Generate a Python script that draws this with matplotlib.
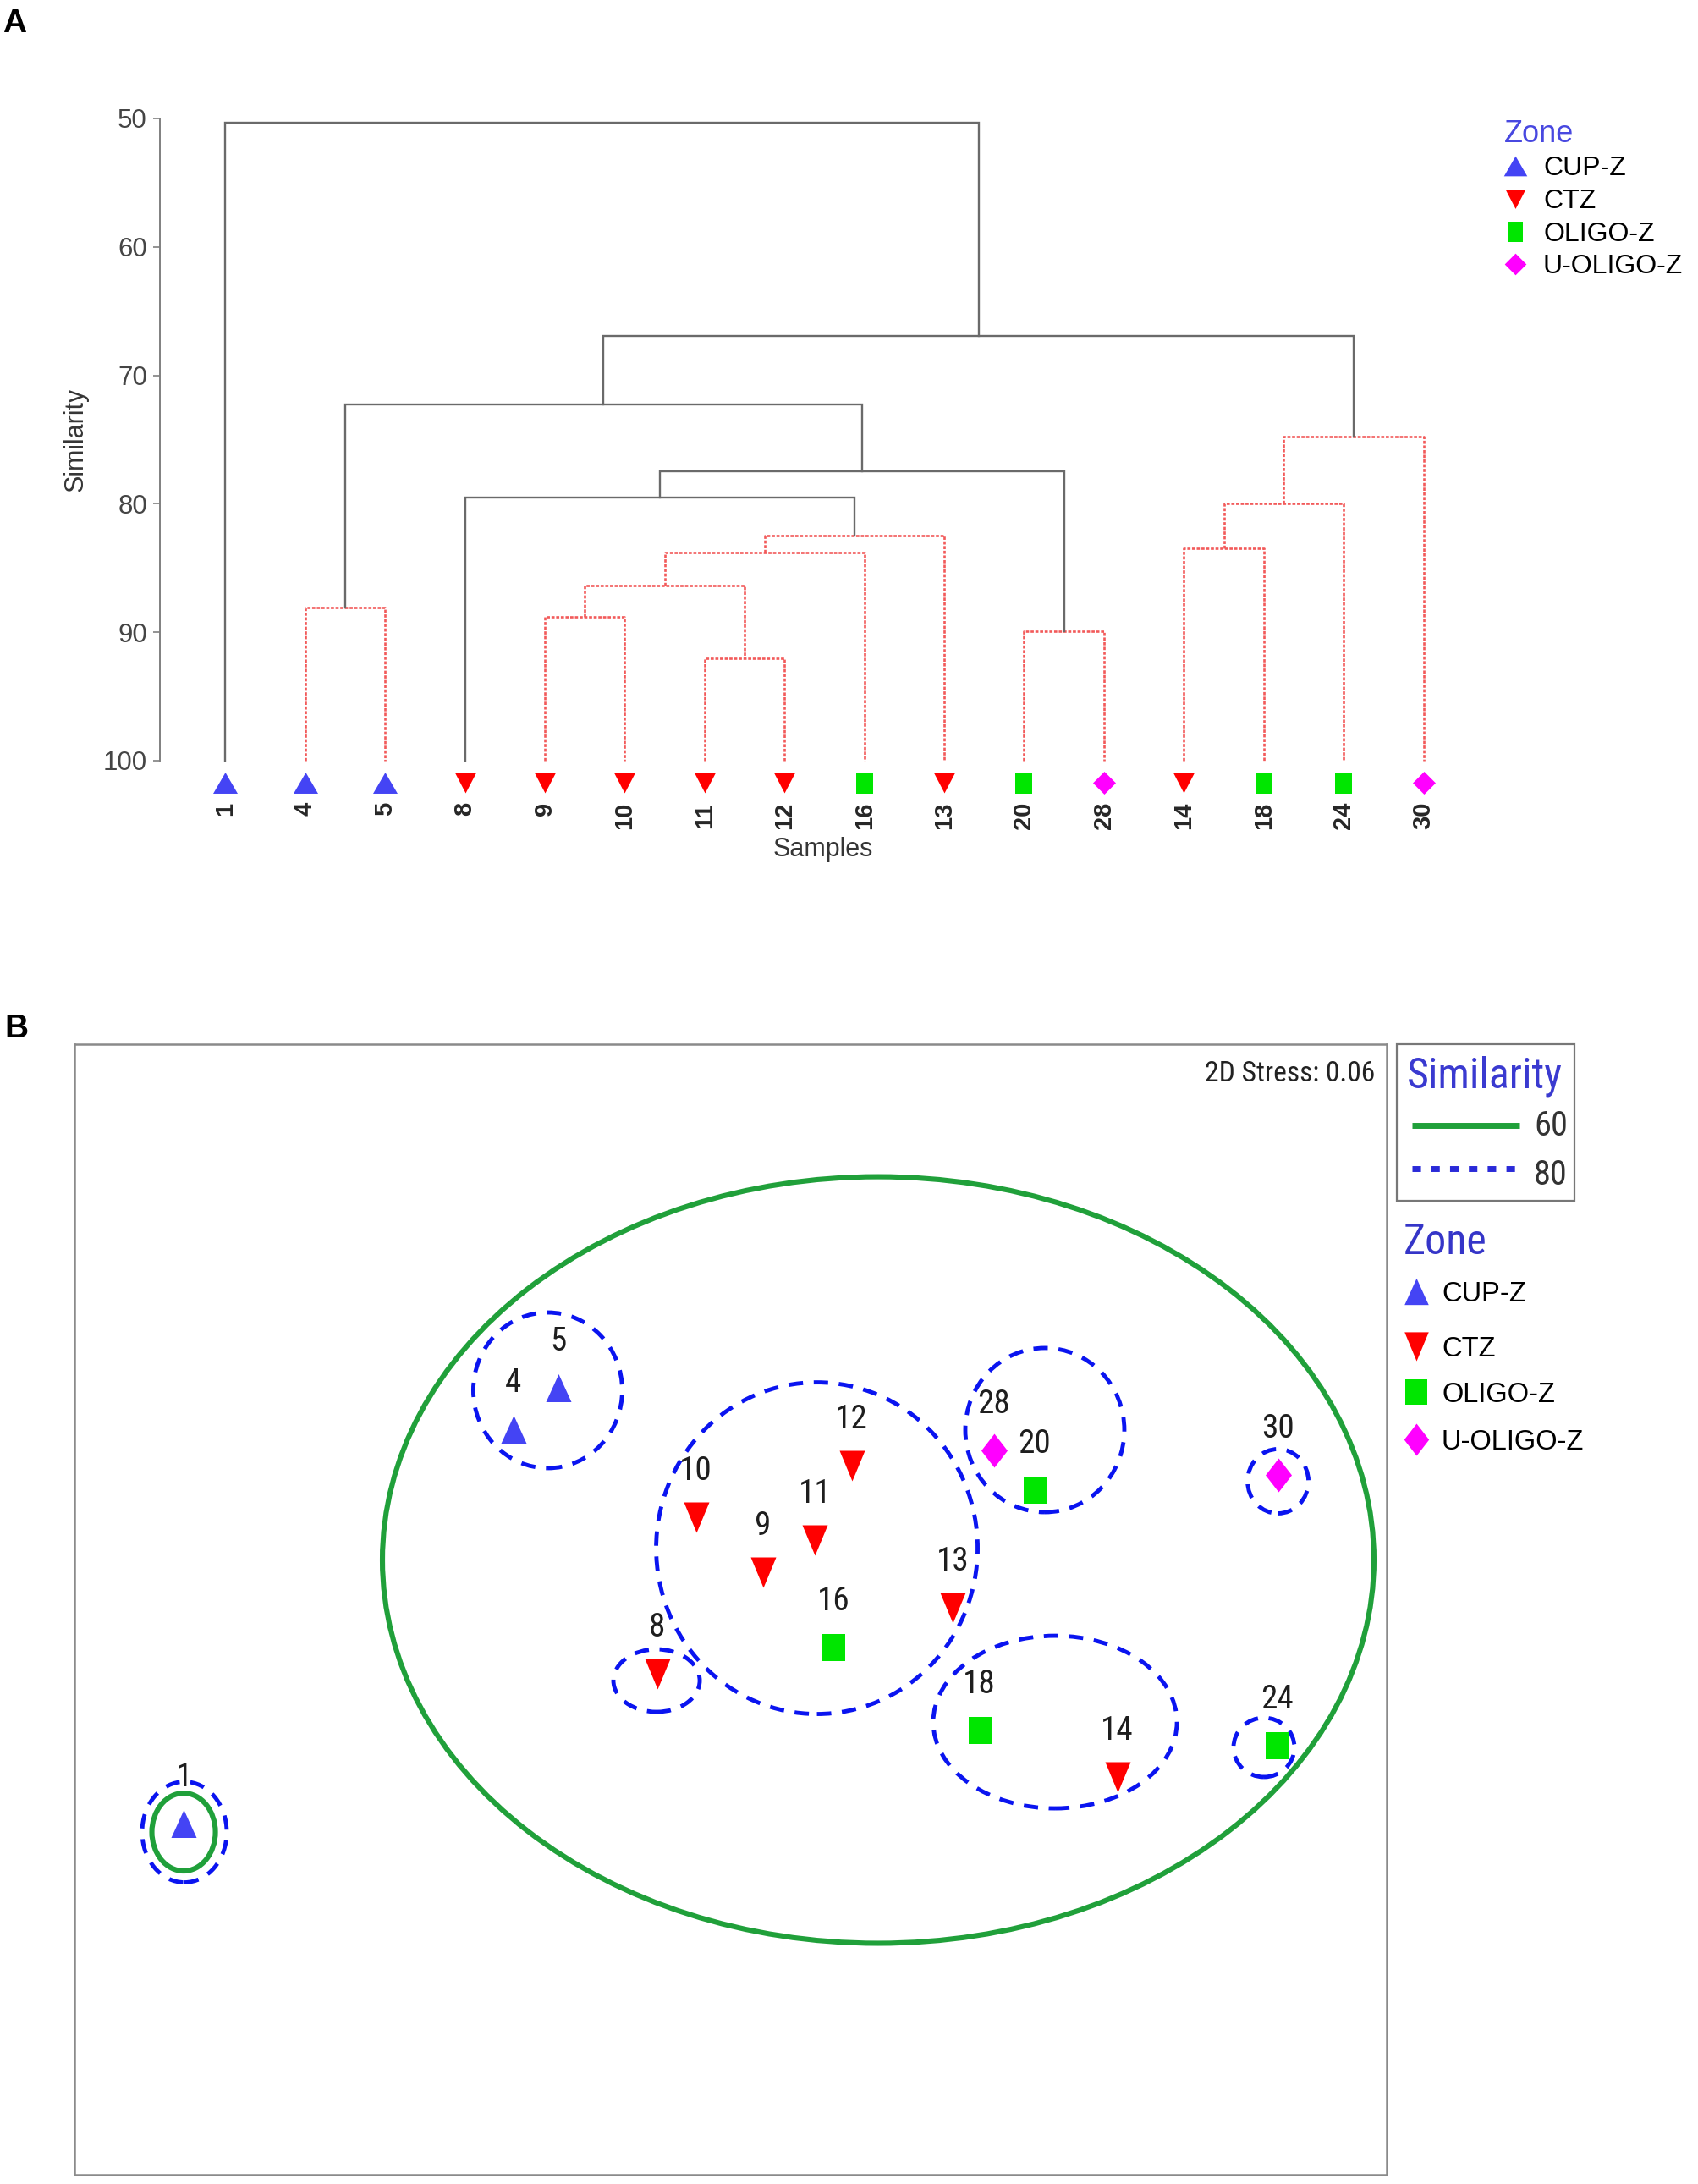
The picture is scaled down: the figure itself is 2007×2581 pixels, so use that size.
import matplotlib
matplotlib.use('Agg')
import matplotlib.pyplot as plt
from matplotlib.patches import Ellipse, Rectangle
from matplotlib import font_manager as fm
import numpy as np

W, H = 2007, 2581
DPI = 100
PX = 72.0 / DPI  # points per pixel

REG = ['Liberation Sans', 'DejaVu Sans']
_avail = {f.name for f in fm.fontManager.ttflist}
if 'Liberation Sans Narrow' in _avail:
    NARROW, NS = ['Liberation Sans Narrow', 'DejaVu Sans'], 1.0
elif 'Roboto Condensed' in _avail:
    NARROW, NS = ['Roboto Condensed', 'DejaVu Sans'], 0.97
elif 'Open Sans Condensed' in _avail:
    NARROW, NS = ['Open Sans Condensed', 'DejaVu Sans'], 0.95
else:
    NARROW, NS = REG, 0.84

# ---------------- data ----------------
zones = ['CUP-Z', 'CTZ', 'OLIGO-Z', 'U-OLIGO-Z']
zone_colors = ['#4444f4', '#ff0000', '#00e600', '#ff00ff']

# Panel A: cluster dendrogram (group-average, % similarity)
leaf_labels = ['1', '4', '5', '8', '9', '10', '11', '12', '16', '13', '20', '28', '14', '18', '24', '30']
leaf_zones = ['CUP-Z', 'CUP-Z', 'CUP-Z', 'CTZ', 'CTZ', 'CTZ', 'CTZ', 'CTZ', 'OLIGO-Z', 'CTZ',
              'OLIGO-Z', 'U-OLIGO-Z', 'CTZ', 'OLIGO-Z', 'OLIGO-Z', 'U-OLIGO-Z']
# merges: ids 0-15 are leaves, merge k gets id 16+k
merge_left = [1, 4, 6, 17, 19, 20, 3, 10, 22, 16, 12, 26, 27, 25, 0]
merge_right = [2, 5, 7, 18, 8, 9, 21, 11, 23, 24, 13, 14, 15, 28, 29]
merge_height = [88.1, 88.8, 92.05, 86.35, 83.8, 82.5, 79.5, 89.9, 77.5, 72.3, 83.5, 80.0, 74.8, 66.9, 50.3]
merge_not_sig = [True, True, True, True, True, True, False, True, False, False, True, True, True, False, False]
sim_ticks = [50, 60, 70, 80, 90, 100]

# Panel B: nMDS ordination
mds_labels = ['1', '4', '5', '8', '9', '10', '11', '12', '13', '16', '18', '14', '20', '28', '24', '30']
mds_zones = ['CUP-Z', 'CUP-Z', 'CUP-Z', 'CTZ', 'CTZ', 'CTZ', 'CTZ', 'CTZ', 'CTZ', 'OLIGO-Z',
             'OLIGO-Z', 'CTZ', 'OLIGO-Z', 'U-OLIGO-Z', 'OLIGO-Z', 'U-OLIGO-Z']
mds_x = [-4.166, -1.654, -1.312, -0.560, 0.246, -0.263, 0.641, 0.923, 1.692, 0.783,
         1.896, 2.947, 2.315, 2.008, 4.162, 4.173]
mds_y = [-1.631, 1.373, 1.689, -0.487, 0.284, 0.703, 0.529, 1.096, 0.013, -0.290,
         -0.919, -1.277, 0.911, 1.212, -1.035, 1.026]
stress = 0.06

# similarity contours (60 % and 80 %)
sim60_cx = [1.125, -4.168]
sim60_cy = [0.377, -1.696]
sim60_w = [7.556, 0.484]
sim60_h = [5.841, 0.593]
sim80_cx = [-4.162, -1.393, 0.658, -0.564, 2.395, 4.172, 2.473, 4.065]
sim80_cy = [-1.696, 1.670, 0.467, -0.542, 1.367, 0.977, -0.858, -1.051]
sim80_w = [0.645, 1.135, 2.450, 0.658, 1.212, 0.464, 1.857, 0.464]
sim80_h = [0.767, 1.186, 2.527, 0.477, 1.251, 0.490, 1.315, 0.451]
sim_levels = ['60', '80']

# ---------------- marker shapes ----------------
def tri_up(r, hh=0.5):
    return [(-0.5 * r, -hh), (0.5 * r, -hh), (0, hh), (-0.5 * r, -hh)]

def tri_down(r, hh=0.5):
    return [(-0.5 * r, hh), (0.5 * r, hh), (0, -hh), (-0.5 * r, hh)]

def rect(r):
    return [(-0.5 * r, -0.5), (0.5 * r, -0.5), (0.5 * r, 0.5), (-0.5 * r, 0.5), (-0.5 * r, -0.5)]

def diamond(r):
    return [(0, 0.5), (0.5 * r, 0), (0, -0.5), (-0.5 * r, 0), (0, 0.5)]

# (marker vertices, size in px) for panel A and panel B
markA = {'CUP-Z': (tri_up(1.0, 0.43), 29),
         'CTZ': (tri_down(1.0, 0.48), 25),
         'OLIGO-Z': (rect(20 / 25.0), 25),
         'U-OLIGO-Z': (diamond(1.0), 27)}
markB = {'CUP-Z': (tri_up(30 / 33.0), 33),
         'CTZ': (tri_down(30 / 36.0), 36),
         'OLIGO-Z': (rect(27 / 32.0), 32),
         'U-OLIGO-Z': (diamond(31 / 40.0), 40)}
color_of = dict(zip(zones, zone_colors))

def cap_px(pt):
    return 0.716 * pt / PX

# ---------------- figure ----------------
fig = plt.figure(figsize=(W / DPI, H / DPI), dpi=DPI)
fig.patch.set_facecolor('white')

def fbox(x0, y0, x1, y1):
    return [x0 / W, 1 - y1 / H, (x1 - x0) / W, (y1 - y0) / H]

# ---------- Panel A ----------
axA = fig.add_axes(fbox(188.5, 109.6, 1777, 944.5))
axA.set_xlim(-0.824, 16)
axA.set_ylim(103, 48)
for s in ['top', 'right', 'bottom']:
    axA.spines[s].set_visible(False)
axA.spines['left'].set_bounds(50, 100)
axA.spines['left'].set_color('#808080')
axA.spines['left'].set_linewidth(1.4)
axA.set_yticks(sim_ticks)
axA.set_yticklabels([str(t) for t in sim_ticks])
axA.tick_params(axis='y', length=5.5, width=1.2, color='#808080', pad=5.0,
                labelsize=22.5, labelcolor='#454545')
for lab in axA.get_yticklabels():
    lab.set_family(REG)
axA.set_xticks(range(len(leaf_labels)))
axA.set_xticklabels(leaf_labels, rotation=90, fontweight='bold', family=REG)
axA.tick_params(axis='x', length=0, pad=2.5, labelsize=21, labelcolor='#262626')

xpos = {i: float(i) for i in range(len(leaf_labels))}
ypos = {i: 100.0 for i in range(len(leaf_labels))}
for k in range(len(merge_left)):
    a, b, h = merge_left[k], merge_right[k], merge_height[k]
    xs = [xpos[a], xpos[a], xpos[b], xpos[b]]
    ys = [ypos[a], h, h, ypos[b]]
    if merge_not_sig[k]:
        axA.plot(xs, ys, color='#f25a5a', lw=1.9, ls=(0, (1.4, 0.7)), zorder=2)
    else:
        axA.plot(xs, ys, color='#6a6a6a', lw=1.7, zorder=2, solid_joinstyle='miter')
    nid = len(leaf_labels) + k
    xpos[nid] = (xpos[a] + xpos[b]) / 2.0
    ypos[nid] = h

for i, z in enumerate(leaf_zones):
    m, sz = markA[z]
    axA.plot([i], [101.7], linestyle='none', marker=m, ms=sz * PX, color=color_of[z],
             mew=0, zorder=3, clip_on=False)

# ---------- Panel B ----------
axB = fig.add_axes(fbox(88, 1234, 1639, 2570))
axB.set_xlim(-5, 5)
axB.set_ylim(-4.307, 4.307)
axB.set_xticks([])
axB.set_yticks([])
for s in axB.spines.values():
    s.set_color('#8a8a8a')
    s.set_linewidth(1.8)

for cx, cy, w, h in zip(sim60_cx, sim60_cy, sim60_w, sim60_h):
    axB.add_patch(Ellipse((cx, cy), w, h, fill=False, ec='#20a03a', lw=4.4, zorder=2))
for cx, cy, w, h in zip(sim80_cx, sim80_cy, sim80_w, sim80_h):
    axB.add_patch(Ellipse((cx, cy), w, h, fill=False, ec='#0a14f0', lw=3.5,
                          ls=(0, (3.5, 2.6)), zorder=3))

lab_pt = 29 * NS
lab_off = (58 - cap_px(lab_pt) / 2) * PX
for lab, z, x, y in zip(mds_labels, mds_zones, mds_x, mds_y):
    m, sz = markB[z]
    axB.plot([x], [y], linestyle='none', marker=m, ms=sz * PX, color=color_of[z], mew=0, zorder=4)
    axB.annotate(lab, (x, y), xytext=(0, lab_off), textcoords='offset points', ha='center',
                 va='baseline', fontsize=lab_pt, family=NARROW, color='#1e1e1e', zorder=5)

# ---------- overlay (pixel coordinates) for labels & legends ----------
ov = fig.add_axes([0, 0, 1, 1], zorder=10)
ov.set_xlim(0, W)
ov.set_ylim(H, 0)
ov.axis('off')

ov.text(3, 38, 'A', fontsize=28, fontweight='bold', family=REG, color='black', va='baseline')
ov.text(5, 1226, 'B', fontsize=28, fontweight='bold', family=REG, color='black', va='baseline')

ov.text(90, 519, 'Similarity', rotation=90, ha='center', va='center', fontsize=22,
        family=REG, color='#353535')
ov.text(973, 1004, 'Samples', ha='center', va='center', fontsize=22, family=REG, color='#353535')

# legend A
ov.text(1778, 168, 'Zone', fontsize=26, family=REG, color='#4848e0', va='baseline')
legA_y = [196, 235, 274, 312]
for z, yc in zip(zones, legA_y):
    m, sz = markA[z]
    ov.plot([1790.6], [yc], linestyle='none', marker=m, ms=sz * PX * 0.95, color=color_of[z], mew=0)
    ov.text(1824, yc + cap_px(23) / 2, z, fontsize=23, family=REG, color='black', va='baseline')

# stress
ov.text(1625, 1278, '2D Stress: %.2f' % stress, ha='right', va='baseline', fontsize=25 * NS,
        family=NARROW, color='#222222')

# similarity legend
ov.add_patch(Rectangle((1651, 1234), 210, 185, fill=False, ec='#777777', lw=1.6))
ov.text(1755, 1286, 'Similarity', ha='center', va='baseline', fontsize=37 * NS, family=NARROW,
        color='#3a3ad0')
ov.plot([1669, 1796], [1330, 1330], color='#20a03a', lw=5.0, solid_capstyle='butt')
ov.plot([1669, 1802], [1381, 1381], color='#2a2ad8', lw=5.0, ls=(0, (1.45, 1.75)),
        dash_capstyle='butt')
ov.text(1813, 1342, sim_levels[0], va='baseline', fontsize=30 * NS, family=NARROW, color='#333333')
ov.text(1813, 1400, sim_levels[1], va='baseline', fontsize=30 * NS, family=NARROW, color='#333333')

# zone legend B
ov.text(1659, 1482, 'Zone', va='baseline', fontsize=37 * NS, family=NARROW, color='#3535c8')
legB_y = [1526, 1591, 1645, 1701]
for z, yc in zip(zones, legB_y):
    m, sz = markB[z]
    ov.plot([1674], [yc], linestyle='none', marker=m, ms=sz * PX * 0.95, color=color_of[z], mew=0)
    ov.text(1704, yc + cap_px(23.5) / 2, z, fontsize=23.5, family=REG, color='black', va='baseline')

fig.savefig('out.png', dpi=DPI, facecolor='white')
